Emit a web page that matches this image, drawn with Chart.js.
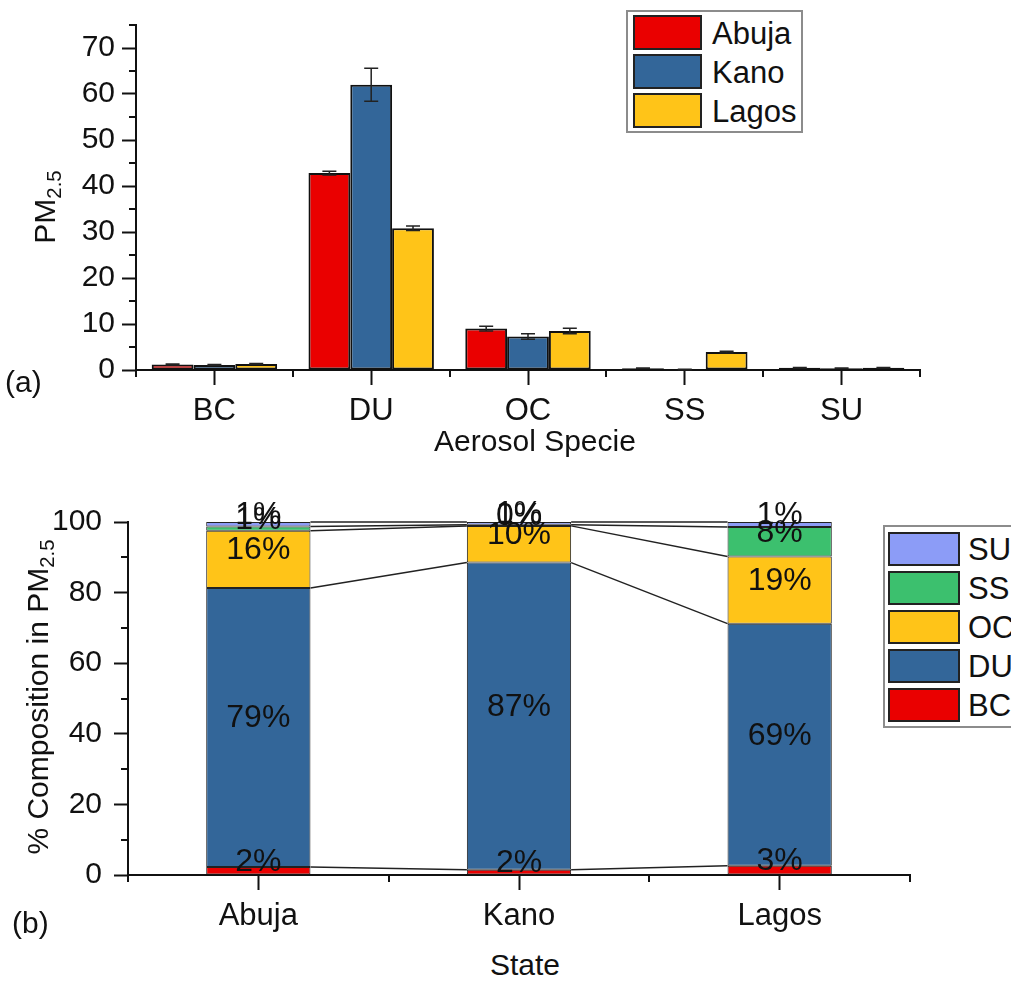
<!DOCTYPE html>
<html>
<head>
<meta charset="utf-8">
<script src="https://cdn.jsdelivr.net/npm/chart.js@4.4.1/dist/chart.umd.min.js"></script>
<style>
body { margin:0; width:1011px; height:983px; overflow:hidden; background:#fff; position:relative;
       font-family:'Liberation Sans', Arial, sans-serif; color:#111; }
canvas { position:absolute; left:0; }
#chartA { top:0; }
#chartB { top:480px; }
.txt { position:absolute; font-size:30px; white-space:nowrap; line-height:1; }
.rot { transform:translate(-50%,-50%) rotate(-90deg); }
.ctr { transform:translate(-50%,-50%); }
sub { font-size:0.68em; vertical-align:-0.3em; }
.legend { position:absolute; border:2px solid #8c8c8c; background:#fff; box-sizing:border-box; }
.sw { position:absolute; border:2px solid #222; box-sizing:border-box; }
.lt { position:absolute; font-size:31px; line-height:1; white-space:nowrap; transform:translateY(-50%); }
</style>
</head>
<body>
<canvas id="chartA" width="1011" height="470"></canvas>
<canvas id="chartB" width="1011" height="460"></canvas>

<div class="txt rot" style="left:47px; top:207px;">PM<sub>2.5</sub></div>
<div class="txt" style="left:5px; top:367px;">(a)</div>
<div class="txt ctr" style="left:535px; top:441px;">Aerosol Specie</div>

<div class="txt rot" style="left:40px; top:697px;">% Composition in PM<sub>2.5</sub></div>
<div class="txt" style="left:12px; top:908px;">(b)</div>
<div class="txt ctr" style="left:525px; top:965px;">State</div>

<div id="legendA" class="legend" style="left:626px; top:10px; width:177px; height:123px;"></div>
<div id="legendB" class="legend" style="left:883px; top:525px; width:200px; height:203px;"></div>

<script>
// (a) PM2.5 by aerosol species
const species = ['BC', 'DU', 'OC', 'SS', 'SU'];
const cities = ['Abuja', 'Kano', 'Lagos'];
const abujaPM = [1.2, 42.8, 9.0, 0.4, 0.5];
const kanoPM = [1.1, 62.0, 7.3, 0.1, 0.4];
const lagosPM = [1.3, 30.8, 8.5, 3.9, 0.5];
const abujaErr = [0.1, 0.4, 0.5, 0.05, 0.05];
const kanoErr = [0.1, 3.6, 0.6, 0.05, 0.05];
const lagosErr = [0.1, 0.5, 0.6, 0.2, 0.05];

// (b) % composition per state
const states = ['Abuja', 'Kano', 'Lagos'];
const bcPct = [2.3, 1.5, 2.6];
const duPct = [79.0, 87.0, 68.6];
const ocPct = [16.2, 10.4, 19.0];
const ssPct = [1.2, 0.3, 8.4];
const suPct = [1.3, 0.8, 1.4];

const yTicksA = [0, 10, 20, 30, 40, 50, 60, 70];
const yTicksB = [0, 20, 40, 60, 80, 100];

const RED = '#ea0000', BLUE = '#336699', YELLOW = '#ffc418', GREEN = '#3cc06e', LAV = '#8c9cf7';
const INK = '#111';
const FONT = "'Liberation Sans', Arial, sans-serif";

// legends
function buildLegend(id, items, sx, sy, sw, sh, pitch, tx) {
    const box = document.getElementById(id);
    items.forEach((it, i) => {
        const s = document.createElement('div');
        s.className = 'sw';
        s.style.cssText = `left:${sx}px; top:${sy + i * pitch}px; width:${sw}px; height:${sh}px; background:${it.color};`;
        box.appendChild(s);
        const t = document.createElement('div');
        t.className = 'lt';
        t.textContent = it.label;
        t.style.cssText = `left:${tx}px; top:${sy + i * pitch + sh / 2}px;`;
        box.appendChild(t);
    });
}
buildLegend('legendA', [
    { label: cities[0], color: RED }, { label: cities[1], color: BLUE }, { label: cities[2], color: YELLOW }
], 5, 3, 69, 35, 39, 84);
buildLegend('legendB', [
    { label: 'SU', color: LAV }, { label: 'SS', color: GREEN }, { label: 'OC', color: YELLOW },
    { label: 'DU', color: BLUE }, { label: 'BC', color: RED }
], 3, 5, 72, 34, 39, 83);

// minor ticks + category boundary ticks
const minorTicks = {
    id: 'minorTicks',
    afterDraw(chart, args, opts) {
        const c = chart.ctx, x = chart.scales.x, y = chart.scales.y;
        c.save();
        c.strokeStyle = INK;
        c.lineWidth = 2;
        c.beginPath();
        for (let v = opts.yMinor; v <= y.max + 1e-6; v += opts.yMinor * 2) {
            const py = Math.round(y.getPixelForValue(v));
            c.moveTo(x.left, py);
            c.lineTo(x.left - 7, py);
        }
        for (let i = 0; i <= chart.data.labels.length; i++) {
            const px = Math.round(x.getPixelForValue(i - 0.5));
            c.moveTo(px, y.bottom);
            c.lineTo(px, y.bottom + 7);
        }
        c.stroke();
        c.restore();
    }
};

const errorBars = {
    id: 'errorBars',
    afterDatasetsDraw(chart) {
        const c = chart.ctx, y = chart.scales.y;
        c.save();
        c.strokeStyle = '#222';
        c.lineWidth = 1.5;
        chart.data.datasets.forEach((ds, i) => {
            chart.getDatasetMeta(i).data.forEach((bar, j) => {
                const hi = y.getPixelForValue(ds.data[j] + ds.err[j]);
                const lo = y.getPixelForValue(ds.data[j] - ds.err[j]);
                c.beginPath();
                c.moveTo(bar.x, hi); c.lineTo(bar.x, lo);
                c.moveTo(bar.x - 7, hi); c.lineTo(bar.x + 7, hi);
                c.moveTo(bar.x - 7, lo); c.lineTo(bar.x + 7, lo);
                c.stroke();
            });
        });
        c.restore();
    }
};

const connectors = {
    id: 'connectors',
    afterDatasetsDraw(chart) {
        const c = chart.ctx;
        c.save();
        c.strokeStyle = '#222';
        c.lineWidth = 1.5;
        chart.data.datasets.forEach((ds, i) => {
            const bars = chart.getDatasetMeta(i).data;
            for (let j = 0; j < bars.length - 1; j++) {
                const a = bars[j], b = bars[j + 1];
                c.beginPath();
                c.moveTo(a.x + a.width / 2, a.y);
                c.lineTo(b.x - b.width / 2, b.y);
                c.stroke();
            }
        });
        c.restore();
    }
};

const pctLabels = {
    id: 'pctLabels',
    afterDatasetsDraw(chart) {
        const c = chart.ctx;
        c.save();
        c.fillStyle = INK;
        c.font = '32px ' + FONT;
        c.textAlign = 'center';
        c.textBaseline = 'middle';
        chart.data.datasets.forEach((ds, i) => {
            chart.getDatasetMeta(i).data.forEach((bar, j) => {
                c.fillText(Math.round(ds.data[j]) + '%', bar.x, (bar.y + bar.base) / 2 - 9);
            });
        });
        c.restore();
    }
};

function axisX(height) {
    return {
        offset: true,
        grid: { display: true, drawOnChartArea: false, offset: false, tickLength: 15, tickColor: INK, tickWidth: 2 },
        border: { display: true, color: INK, width: 2 },
        ticks: { color: INK, font: { size: 31, family: FONT }, padding: 8, maxRotation: 0 },
        afterFit: s => { s.height = height; }
    };
}
function axisY(width, max, ticks, pad) {
    return {
        min: 0, max: max,
        grid: { display: true, drawOnChartArea: false, tickLength: 14, tickColor: INK, tickWidth: 2 },
        border: { display: true, color: INK, width: 2 },
        ticks: { color: INK, font: { size: 30, family: FONT }, padding: pad, includeBounds: false },
        afterBuildTicks: s => { s.ticks = ticks.map(v => ({ value: v })); },
        afterFit: s => { s.width = width; }
    };
}

new Chart(document.getElementById('chartA'), {
    type: 'bar',
    data: {
        labels: species,
        datasets: [
            { label: cities[0], data: abujaPM, err: abujaErr, backgroundColor: RED },
            { label: cities[1], data: kanoPM, err: kanoErr, backgroundColor: BLUE },
            { label: cities[2], data: lagosPM, err: lagosErr, backgroundColor: YELLOW }
        ].map(d => Object.assign(d, { borderColor: INK, borderWidth: 2, borderSkipped: false,
                                       categoryPercentage: 0.8, barPercentage: 1.0 }))
    },
    options: {
        responsive: false,
        animation: false,
        layout: { padding: { top: 18, right: 91, bottom: 0, left: 0 } },
        scales: { x: axisX(100), y: axisY(136, 75, yTicksA, 7) },
        plugins: { legend: { display: false }, tooltip: { enabled: false }, minorTicks: { yMinor: 5 } }
    },
    plugins: [minorTicks, errorBars]
});

new Chart(document.getElementById('chartB'), {
    type: 'bar',
    data: {
        labels: states,
        datasets: [
            { label: 'BC', data: bcPct, backgroundColor: RED },
            { label: 'DU', data: duPct, backgroundColor: BLUE },
            { label: 'OC', data: ocPct, backgroundColor: YELLOW },
            { label: 'SS', data: ssPct, backgroundColor: GREEN },
            { label: 'SU', data: suPct, backgroundColor: LAV }
        ].map(d => Object.assign(d, { borderColor: '#222', borderWidth: 1, borderSkipped: false,
                                       categoryPercentage: 1.0, barPercentage: 0.4 }))
    },
    options: {
        responsive: false,
        animation: false,
        layout: { padding: { top: 42, right: 101, bottom: 0, left: 0 } },
        scales: {
            x: Object.assign(axisX(65), { stacked: true }),
            y: Object.assign(axisY(128, 100, yTicksB, 12), { stacked: true })
        },
        plugins: { legend: { display: false }, tooltip: { enabled: false }, minorTicks: { yMinor: 10 } }
    },
    plugins: [minorTicks, connectors, pctLabels]
});
</script>
</body>
</html>
